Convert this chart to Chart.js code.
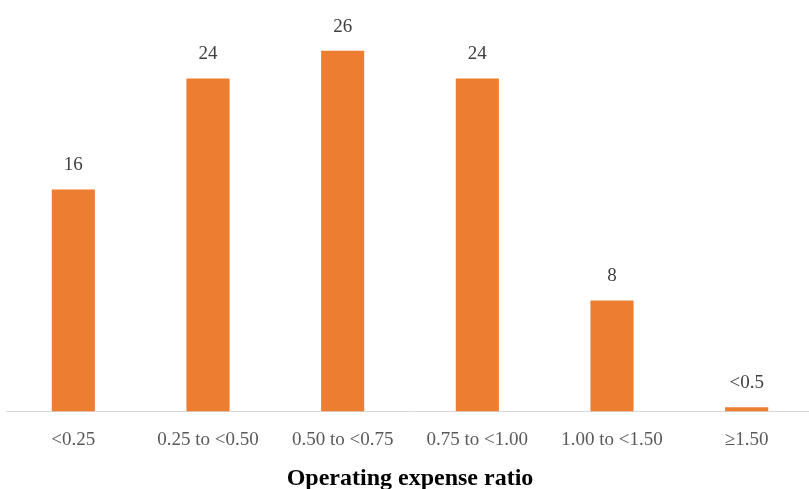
<!DOCTYPE html>
<html><head><meta charset="utf-8">
<script src="https://cdn.jsdelivr.net/npm/chart.js@4/dist/chart.umd.min.js"></script>
<style>html,body{margin:0;padding:0;background:#fff;overflow:hidden;width:809px;height:489px}canvas{display:block}</style>
</head><body>
<canvas id="c" width="816" height="489" style="width:816px;height:489px"></canvas>
<script>
const categories = ["<0.25", "0.25 to <0.50", "0.50 to <0.75", "0.75 to <1.00", "1.00 to <1.50", "\u22651.50"];
const values = [16, 24, 26, 24, 8, 0.3];
const valueLabels = ["16", "24", "26", "24", "8", "<0.5"];
const axisTitle = "Operating expense ratio";

const FONT = "'Liberation Serif', 'DejaVu Serif', serif";

const labelPlugin = {
  id: 'valueLabels',
  afterDatasetsDraw(chart) {
    const ctx = chart.ctx;
    const meta = chart.getDatasetMeta(0);
    ctx.save();
    ctx.font = "19px " + FONT;
    ctx.fillStyle = "#404040";
    ctx.textAlign = "center";
    ctx.textBaseline = "middle";
    meta.data.forEach((bar, i) => {
      ctx.fillText(valueLabels[i], bar.x, bar.y - 24);
    });
    ctx.restore();
  }
};

new Chart(document.getElementById('c'), {
  type: 'bar',
  data: {
    labels: categories,
    datasets: [{
      data: values,
      backgroundColor: '#ED7D31',
      borderWidth: 0,
      barPercentage: 0.32,
      categoryPercentage: 1.0
    }]
  },
  options: {
    responsive: false,
    animation: false,
    layout: { padding: { top: 9, left: 6, right: 2, bottom: 0 } },
    plugins: { legend: { display: false }, tooltip: { enabled: false } },
    scales: {
      x: {
        grid: { display: true, drawOnChartArea: false, drawTicks: false },
        border: { display: true, color: '#d9d9d9', width: 1 },
        ticks: { color: '#595959', font: { family: FONT, size: 19 }, padding: 17, maxRotation: 0, autoSkip: false },
        title: { display: true, text: axisTitle, color: '#000', font: { family: FONT, size: 24, weight: 'bold' }, padding: { top: -4, bottom: -4 } }
      },
      y: {
        display: false,
        min: 0,
        max: 29
      }
    }
  },
  plugins: [labelPlugin]
});
</script>
</body></html>
